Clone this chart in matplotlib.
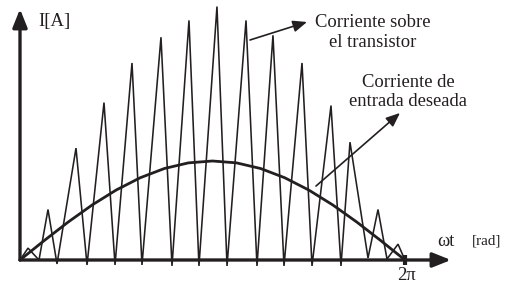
"""Corriente sobre el transistor vs. corriente de entrada deseada (sketch)."""
import numpy as np
import matplotlib.pyplot as plt

# --- data -----------------------------------------------------------------
# vertices of the switched transistor current (wt in rad, I in units of the sine peak)
transistor_t = [0.0, 0.131, 0.310, 0.457, 0.604, 0.914, 1.094, 1.371, 1.551,
                1.828, 1.991, 2.301, 2.481, 2.758, 2.921, 3.215, 3.379, 3.689,
                3.868, 4.129, 4.309, 4.603, 4.766, 5.076, 5.239, 5.386, 5.680,
                5.843, 5.990, 6.170, 6.283]
transistor_i = [0.0, 0.12, 0.0, 0.51, -0.04, 1.13, -0.05, 1.59, -0.05,
                1.99, -0.05, 2.25, -0.06, 2.42, -0.06, 2.56, -0.06, 2.42,
                -0.06, 2.27, -0.06, 1.99, -0.06, 1.56, -0.06, 1.19, 0.02,
                0.51, 0.01, 0.16, 0.0]

# desired input current, read every pi/8
desired_t = [k * np.pi / 8 for k in range(17)]
desired_i = [0.0, 0.195, 0.383, 0.556, 0.707, 0.831, 0.924, 0.981, 1.0,
             0.981, 0.924, 0.831, 0.707, 0.556, 0.383, 0.195, 0.0]

INK = '#231f20'
SERIF = ['Liberation Serif', 'DejaVu Serif']

fig = plt.figure(figsize=(5.05, 2.84), dpi=100)
ax = fig.add_axes([0, 0, 1, 1])
ax.set_xlim(-0.3264, 7.916)
ax.set_ylim(-0.2424, 2.626)
ax.axis('off')

# curves
ax.plot(transistor_t, transistor_i, color=INK, lw=1.15, solid_joinstyle='miter')
ax.plot(desired_t, desired_i, color=INK, lw=2.0, solid_capstyle='round')

# axes with arrow heads
axis_style = dict(arrowstyle='-|>,head_length=0.55,head_width=0.22',
                  color=INK, lw=2.4, mutation_scale=20, shrinkA=0, shrinkB=0)
ax.annotate('', xy=(7.034, 0), xytext=(0, 0), arrowprops=axis_style)
ax.annotate('', xy=(0, 2.535), xytext=(0, 0), arrowprops=axis_style)
ax.plot([2 * np.pi, 2 * np.pi], [-0.05, 0.05], color=INK, lw=3, solid_capstyle='butt')

# pointer arrows
ptr_style = dict(arrowstyle='-|>,head_length=0.6,head_width=0.25',
                 color=INK, lw=1.2, mutation_scale=14, shrinkA=0, shrinkB=0)
ax.annotate('', xy=(4.684, 2.404), xytext=(3.754, 2.222), arrowprops=ptr_style)
ax.annotate('', xy=(6.202, 1.485), xytext=(4.831, 0.747), arrowprops=ptr_style)

# labels
txt = dict(family=SERIF, color=INK, fontsize=13.4, va='baseline')
ax.text(0.294, 2.364, 'I[A]', ha='left', **txt)
ax.text(5.761, 2.354, 'Corriente sobre', ha='center', **txt)
ax.text(5.761, 2.152, 'el transistor', ha='center', **txt)
ax.text(6.333, 1.747, 'Corriente de', ha='center', **txt)
ax.text(6.340, 1.556, 'entrada deseada', ha='center', **txt)
ax.text(6.953, 0.141, 'ωt', ha='center', **txt)
ax.text(6.316, -0.197, '2π', ha='center', **txt)
ax.text(7.622, 0.152, '[rad]', ha='center', family=SERIF, color=INK,
        fontsize=11, va='baseline')

fig.savefig('out.png', dpi=100)
plt.close(fig)
